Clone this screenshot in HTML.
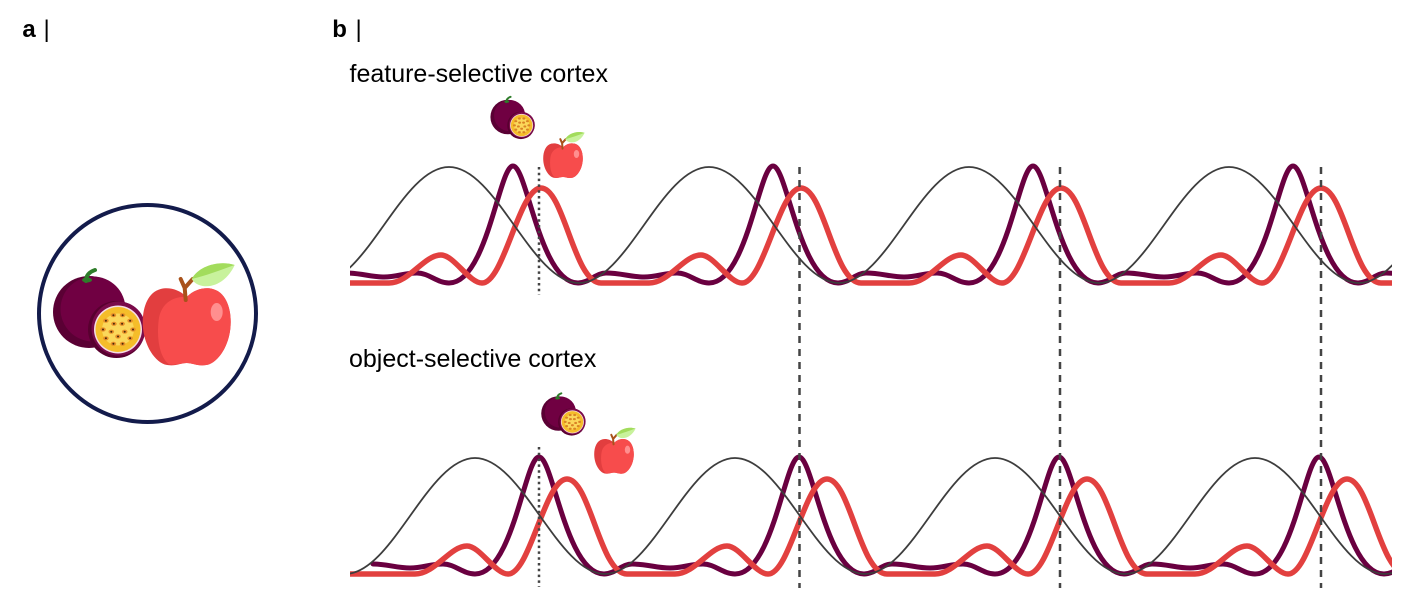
<!DOCTYPE html>
<html>
<head>
<meta charset="utf-8">
<style>
  html, body { margin: 0; padding: 0; background: #ffffff; }
  svg { display: block; }
  text { font-family: "Liberation Sans", Arial, sans-serif; fill: #000; }
</style>
</head>
<body>
<svg width="1417" height="602" viewBox="0 0 1417 602" xmlns="http://www.w3.org/2000/svg">
  <rect x="0" y="0" width="1417" height="602" fill="#ffffff"/>
  <defs>
    <clipPath id="ct"><rect x="350" y="130" width="1042" height="175"/></clipPath>
    <clipPath id="cb"><rect x="350" y="420" width="1042" height="175"/></clipPath>
  </defs>

  <!-- labels -->
  <text x="22.4" y="37" font-size="24" font-weight="bold">a</text>
  <text x="43.5" y="37" font-size="24">|</text>
  <text x="332.3" y="37" font-size="24" font-weight="bold">b</text>
  <text x="355.5" y="37" font-size="24">|</text>
  <text x="349.5" y="82" font-size="25">feature-selective cortex</text>
  <text x="349" y="367" font-size="25">object-selective cortex</text>

  <!-- TOP PANEL CURVES -->
  <g clip-path="url(#ct)" fill="none">
    <path stroke="#6a0040" stroke-width="5" stroke-linejoin="round"
      d="M189,283 c38,0 50,-117 64,-117 c14,0 27,117 65,117 c11,0 18,-10 28,-10 c15,0 25,4 38,4 c13,0 20,-4 33,-4 c12,0 20,10 32,10 c38,0 50,-117 64,-117 c14,0 27,117 65,117 c11,0 18,-10 28,-10 c15,0 25,4 38,4 c13,0 20,-4 33,-4 c12,0 20,10 32,10 c38,0 50,-117 64,-117 c14,0 27,117 65,117 c11,0 18,-10 28,-10 c15,0 25,4 38,4 c13,0 20,-4 33,-4 c12,0 20,10 32,10 c38,0 50,-117 64,-117 c14,0 27,117 65,117 c11,0 18,-10 28,-10 c15,0 25,4 38,4 c13,0 20,-4 33,-4 c12,0 20,10 32,10 c38,0 50,-117 64,-117 c14,0 27,117 65,117 c11,0 18,-10 28,-10 c15,0 25,4 38,4 c13,0 20,-4 33,-4 c12,0 20,10 32,10"/>
    <path stroke="#e2403f" stroke-width="5.5" stroke-linejoin="round"
      d="M181,255 c13,0 28,28 41,28 c22,0 37,-95 59,-95 c23,0 33,95 60,95 h48 c20,0 35,-28 52,-28 c13,0 28,28 41,28 c22,0 37,-95 59,-95 c23,0 33,95 60,95 h48 c20,0 35,-28 52,-28 c13,0 28,28 41,28 c22,0 37,-95 59,-95 c23,0 33,95 60,95 h48 c20,0 35,-28 52,-28 c13,0 28,28 41,28 c22,0 37,-95 59,-95 c23,0 33,95 60,95 h48 c20,0 35,-28 52,-28 c13,0 28,28 41,28 c22,0 37,-95 59,-95 c23,0 33,95 60,95 h48 c20,0 35,-28 52,-28"/>
    <path stroke="#3d3d3d" stroke-width="1.8"
      d="M189,167 c47.3,0 82.7,116 130,116 c47.3,0 82.7,-116 130,-116 c47.3,0 82.7,116 130,116 c47.3,0 82.7,-116 130,-116 c47.3,0 82.7,116 130,116 c47.3,0 82.7,-116 130,-116 c47.3,0 82.7,116 130,116 c47.3,0 82.7,-116 130,-116 c47.3,0 82.7,116 130,116 c47.3,0 82.7,-116 130,-116 c47.3,0 82.7,116 130,116 c47.3,0 82.7,-116 130,-116"/>
  </g>

  <!-- BOTTOM PANEL CURVES -->
  <g clip-path="url(#cb)" fill="none">
    <g transform="translate(26,291)">
      <path stroke="#6a0040" stroke-width="5" stroke-linejoin="round" stroke-linecap="round"
        d="M347,273 c14,0 24,4 37,4 c13,0 20,-4 33,-4 c12,0 20,10 32,10 c38,0 50,-117 64,-117 c14,0 27,117 65,117 c11,0 18,-10 28,-10 c15,0 25,4 38,4 c13,0 20,-4 33,-4 c12,0 20,10 32,10 c38,0 50,-117 64,-117 c14,0 27,117 65,117 c11,0 18,-10 28,-10 c15,0 25,4 38,4 c13,0 20,-4 33,-4 c12,0 20,10 32,10 c38,0 50,-117 64,-117 c14,0 27,117 65,117 c11,0 18,-10 28,-10 c15,0 25,4 38,4 c13,0 20,-4 33,-4 c12,0 20,10 32,10 c38,0 50,-117 64,-117 c14,0 27,117 65,117 c11,0 18,-10 28,-10 c15,0 25,4 38,4 c13,0 20,-4 33,-4 c12,0 20,10 32,10"/>
      <path stroke="#e2403f" stroke-width="5.5" stroke-linejoin="round"
        d="M300,283 H389 c20,0 35,-28 52,-28 c13,0 28,28 41,28 c22,0 37,-95 59,-95 c23,0 33,95 60,95 h48 c20,0 35,-28 52,-28 c13,0 28,28 41,28 c22,0 37,-95 59,-95 c23,0 33,95 60,95 h48 c20,0 35,-28 52,-28 c13,0 28,28 41,28 c22,0 37,-95 59,-95 c23,0 33,95 60,95 h48 c20,0 35,-28 52,-28 c13,0 28,28 41,28 c22,0 37,-95 59,-95 c23,0 33,95 60,95 h48 c20,0 35,-28 52,-28"/>
      <path stroke="#3d3d3d" stroke-width="1.8"
        d="M189,167 c47.3,0 82.7,116 130,116 c47.3,0 82.7,-116 130,-116 c47.3,0 82.7,116 130,116 c47.3,0 82.7,-116 130,-116 c47.3,0 82.7,116 130,116 c47.3,0 82.7,-116 130,-116 c47.3,0 82.7,116 130,116 c47.3,0 82.7,-116 130,-116 c47.3,0 82.7,116 130,116 c47.3,0 82.7,-116 130,-116 c47.3,0 82.7,116 130,116 c47.3,0 82.7,-116 130,-116"/>
    </g>
  </g>

  <!-- vertical reference lines -->
  <g stroke="#444444" stroke-width="2.5" fill="none">
    <line x1="539" y1="167" x2="539" y2="295" stroke-dasharray="2.5 3.3"/>
    <line x1="539" y1="447" x2="539" y2="587" stroke-dasharray="2.5 3.3"/>
    <line x1="799.5" y1="167" x2="799.5" y2="588" stroke-dasharray="7 6"/>
    <line x1="1060" y1="167" x2="1060" y2="588" stroke-dasharray="7 6"/>
    <line x1="1321" y1="167" x2="1321" y2="588" stroke-dasharray="7 6"/>
  </g>

  <!-- panel a circle -->
  <circle cx="147.5" cy="313.5" r="108.5" fill="none" stroke="#131b4b" stroke-width="4"/>

  <!-- BIG PASSION FRUIT -->
  <g transform="translate(89,312)">
    <circle r="36" fill="#5a0034"/>
    <circle cx="4" cy="-3" r="32.5" fill="#700042"/>
    <path d="M-3,-31 C-3,-36 0,-40 6,-42" stroke="#2e7d2a" stroke-width="4" fill="none" stroke-linecap="round"/>
    <ellipse cx="-2" cy="-32" rx="5" ry="2.5" fill="#2e7d2a"/>
    <g transform="translate(27.5,17.5)">
      <circle r="28.5" fill="#58002f"/>
      <circle cx="2" cy="-1" r="27" fill="#7a0a4a"/>
      <circle cx="1.5" cy="0" r="24" fill="#f6dde6"/>
      <circle cx="1.5" cy="0" r="22.5" fill="#f5bd2a"/>
      <circle cx="1.5" cy="0" r="16" fill="#fbd75a"/>
      <g fill="#e8902a">
        <ellipse cx="16.5" cy="0" rx="2.8" ry="2.1"/><ellipse cx="13.6" cy="8.8" rx="2.8" ry="2.1"/>
        <ellipse cx="6.1" cy="14.3" rx="2.8" ry="2.1"/><ellipse cx="-3.1" cy="14.3" rx="2.8" ry="2.1"/>
        <ellipse cx="-10.6" cy="8.8" rx="2.8" ry="2.1"/><ellipse cx="-13.5" cy="0" rx="2.8" ry="2.1"/>
        <ellipse cx="-10.6" cy="-8.8" rx="2.8" ry="2.1"/><ellipse cx="-3.1" cy="-14.3" rx="2.8" ry="2.1"/>
        <ellipse cx="6.1" cy="-14.3" rx="2.8" ry="2.1"/><ellipse cx="13.6" cy="-8.8" rx="2.8" ry="2.1"/>
        <ellipse cx="8.2" cy="2.2" rx="2.8" ry="2.1"/><ellipse cx="1.5" cy="7" rx="2.8" ry="2.1"/>
        <ellipse cx="-5.2" cy="2.2" rx="2.8" ry="2.1"/><ellipse cx="-2.6" cy="-5.7" rx="2.8" ry="2.1"/>
        <ellipse cx="5.6" cy="-5.7" rx="2.8" ry="2.1"/>
      </g>
      <g fill="#4a2a0a">
        <circle cx="16.5" cy="0" r="1"/><circle cx="13.6" cy="8.8" r="1"/>
        <circle cx="6.1" cy="14.3" r="1"/><circle cx="-3.1" cy="14.3" r="1"/>
        <circle cx="-10.6" cy="8.8" r="1"/><circle cx="-13.5" cy="0" r="1"/>
        <circle cx="-10.6" cy="-8.8" r="1"/><circle cx="-3.1" cy="-14.3" r="1"/>
        <circle cx="6.1" cy="-14.3" r="1"/><circle cx="13.6" cy="-8.8" r="1"/>
        <circle cx="8.2" cy="2.2" r="1"/><circle cx="1.5" cy="7" r="1"/>
        <circle cx="-5.2" cy="2.2" r="1"/><circle cx="-2.6" cy="-5.7" r="1"/>
        <circle cx="5.6" cy="-5.7" r="1"/>
      </g>
    </g>
  </g>

  <!-- BIG APPLE -->
  <g transform="translate(186.7,326)">
    <path d="M0,-29 C-8,-37 -18,-39 -26,-37 C-38,-34 -44,-20 -44,-4 C-44,16 -34,34 -22,38.5 C-12,41 -6,37 0,37 C6,37 12,41 22,38.5 C34,34 44,16 44,-4 C44,-20 38,-34 26,-37 C18,-39 8,-37 0,-29 Z" fill="#e23e3f"/>
    <path d="M0,-29 C8,-37 18,-39 26,-37 C38,-34 44,-20 44,-4 C44,16 34,34 22,38.5 C12,41 6,37 0,37 C-6,37 -12,40 -18,38 C-28,30 -30,10 -28,-6 C-26,-22 -14,-30 0,-29 Z" fill="#f74c4c"/>
    <ellipse cx="30" cy="-14" rx="6" ry="9" fill="#ff8f8f"/>
    <path d="M-1,-26 L-2,-38 L-6,-47 M-2,-38 L6,-47" stroke="#a9521b" stroke-width="4" fill="none" stroke-linecap="round" stroke-linejoin="round"/>
    <path d="M5,-47 C12,-60 32,-66 48,-61 C42,-48 30,-38 16,-40 C10,-41 7,-44 5,-47Z" fill="#c8f29c"/>
    <path d="M5,-47 C12,-60 32,-66 48,-61 C34,-56 18,-50 5,-47Z" fill="#a2dc5c"/>
  </g>

  <!-- SMALL PASSION FRUIT (top) -->
  <g transform="translate(507.7,117) scale(0.48)">
    <circle r="36" fill="#5a0034"/>
    <circle cx="4" cy="-3" r="32.5" fill="#700042"/>
    <path d="M-3,-31 C-3,-36 0,-40 6,-42" stroke="#2e7d2a" stroke-width="4" fill="none" stroke-linecap="round"/>
    <ellipse cx="-2" cy="-32" rx="5" ry="2.5" fill="#2e7d2a"/>
    <g transform="translate(27.5,17.5)">
      <circle r="28.5" fill="#58002f"/>
      <circle cx="2" cy="-1" r="27" fill="#7a0a4a"/>
      <circle cx="1.5" cy="0" r="24" fill="#f6dde6"/>
      <circle cx="1.5" cy="0" r="22.5" fill="#f5bd2a"/>
      <circle cx="1.5" cy="0" r="16" fill="#fbd75a"/>
      <g fill="#d98325">
        <ellipse cx="16.5" cy="0" rx="3" ry="2.3"/><ellipse cx="13.6" cy="8.8" rx="3" ry="2.3"/>
        <ellipse cx="6.1" cy="14.3" rx="3" ry="2.3"/><ellipse cx="-3.1" cy="14.3" rx="3" ry="2.3"/>
        <ellipse cx="-10.6" cy="8.8" rx="3" ry="2.3"/><ellipse cx="-13.5" cy="0" rx="3" ry="2.3"/>
        <ellipse cx="-10.6" cy="-8.8" rx="3" ry="2.3"/><ellipse cx="-3.1" cy="-14.3" rx="3" ry="2.3"/>
        <ellipse cx="6.1" cy="-14.3" rx="3" ry="2.3"/><ellipse cx="13.6" cy="-8.8" rx="3" ry="2.3"/>
        <ellipse cx="8.2" cy="2.2" rx="3" ry="2.3"/><ellipse cx="1.5" cy="7" rx="3" ry="2.3"/>
        <ellipse cx="-5.2" cy="2.2" rx="3" ry="2.3"/><ellipse cx="-2.6" cy="-5.7" rx="3" ry="2.3"/>
        <ellipse cx="5.6" cy="-5.7" rx="3" ry="2.3"/>
      </g>
    </g>
  </g>

  <!-- SMALL APPLE (top) -->
  <g transform="translate(563,160.3) scale(0.45)">
    <path d="M0,-29 C-8,-37 -18,-39 -26,-37 C-38,-34 -44,-20 -44,-4 C-44,16 -34,34 -22,38.5 C-12,41 -6,37 0,37 C6,37 12,41 22,38.5 C34,34 44,16 44,-4 C44,-20 38,-34 26,-37 C18,-39 8,-37 0,-29 Z" fill="#e23e3f"/>
    <path d="M0,-29 C8,-37 18,-39 26,-37 C38,-34 44,-20 44,-4 C44,16 34,34 22,38.5 C12,41 6,37 0,37 C-6,37 -12,40 -18,38 C-28,30 -30,10 -28,-6 C-26,-22 -14,-30 0,-29 Z" fill="#f74c4c"/>
    <ellipse cx="30" cy="-14" rx="6" ry="9" fill="#ff8f8f"/>
    <path d="M-1,-26 L-2,-38 L-6,-47 M-2,-38 L6,-47" stroke="#a9521b" stroke-width="4.5" fill="none" stroke-linecap="round" stroke-linejoin="round"/>
    <path d="M5,-47 C12,-60 32,-66 48,-61 C42,-48 30,-38 16,-40 C10,-41 7,-44 5,-47Z" fill="#c8f29c"/>
    <path d="M5,-47 C12,-60 32,-66 48,-61 C34,-56 18,-50 5,-47Z" fill="#a2dc5c"/>
  </g>

  <!-- SMALL PASSION FRUIT (bottom) -->
  <g transform="translate(558.5,413.5) scale(0.48)">
    <circle r="36" fill="#5a0034"/>
    <circle cx="4" cy="-3" r="32.5" fill="#700042"/>
    <path d="M-3,-31 C-3,-36 0,-40 6,-42" stroke="#2e7d2a" stroke-width="4" fill="none" stroke-linecap="round"/>
    <ellipse cx="-2" cy="-32" rx="5" ry="2.5" fill="#2e7d2a"/>
    <g transform="translate(27.5,17.5)">
      <circle r="28.5" fill="#58002f"/>
      <circle cx="2" cy="-1" r="27" fill="#7a0a4a"/>
      <circle cx="1.5" cy="0" r="24" fill="#f6dde6"/>
      <circle cx="1.5" cy="0" r="22.5" fill="#f5bd2a"/>
      <circle cx="1.5" cy="0" r="16" fill="#fbd75a"/>
      <g fill="#d98325">
        <ellipse cx="16.5" cy="0" rx="3" ry="2.3"/><ellipse cx="13.6" cy="8.8" rx="3" ry="2.3"/>
        <ellipse cx="6.1" cy="14.3" rx="3" ry="2.3"/><ellipse cx="-3.1" cy="14.3" rx="3" ry="2.3"/>
        <ellipse cx="-10.6" cy="8.8" rx="3" ry="2.3"/><ellipse cx="-13.5" cy="0" rx="3" ry="2.3"/>
        <ellipse cx="-10.6" cy="-8.8" rx="3" ry="2.3"/><ellipse cx="-3.1" cy="-14.3" rx="3" ry="2.3"/>
        <ellipse cx="6.1" cy="-14.3" rx="3" ry="2.3"/><ellipse cx="13.6" cy="-8.8" rx="3" ry="2.3"/>
        <ellipse cx="8.2" cy="2.2" rx="3" ry="2.3"/><ellipse cx="1.5" cy="7" rx="3" ry="2.3"/>
        <ellipse cx="-5.2" cy="2.2" rx="3" ry="2.3"/><ellipse cx="-2.6" cy="-5.7" rx="3" ry="2.3"/>
        <ellipse cx="5.6" cy="-5.7" rx="3" ry="2.3"/>
      </g>
    </g>
  </g>

  <!-- SMALL APPLE (bottom) -->
  <g transform="translate(614,456) scale(0.45)">
    <path d="M0,-29 C-8,-37 -18,-39 -26,-37 C-38,-34 -44,-20 -44,-4 C-44,16 -34,34 -22,38.5 C-12,41 -6,37 0,37 C6,37 12,41 22,38.5 C34,34 44,16 44,-4 C44,-20 38,-34 26,-37 C18,-39 8,-37 0,-29 Z" fill="#e23e3f"/>
    <path d="M0,-29 C8,-37 18,-39 26,-37 C38,-34 44,-20 44,-4 C44,16 34,34 22,38.5 C12,41 6,37 0,37 C-6,37 -12,40 -18,38 C-28,30 -30,10 -28,-6 C-26,-22 -14,-30 0,-29 Z" fill="#f74c4c"/>
    <ellipse cx="30" cy="-14" rx="6" ry="9" fill="#ff8f8f"/>
    <path d="M-1,-26 L-2,-38 L-6,-47 M-2,-38 L6,-47" stroke="#a9521b" stroke-width="4.5" fill="none" stroke-linecap="round" stroke-linejoin="round"/>
    <path d="M5,-47 C12,-60 32,-66 48,-61 C42,-48 30,-38 16,-40 C10,-41 7,-44 5,-47Z" fill="#c8f29c"/>
    <path d="M5,-47 C12,-60 32,-66 48,-61 C34,-56 18,-50 5,-47Z" fill="#a2dc5c"/>
  </g>
</svg>
</body>
</html>
